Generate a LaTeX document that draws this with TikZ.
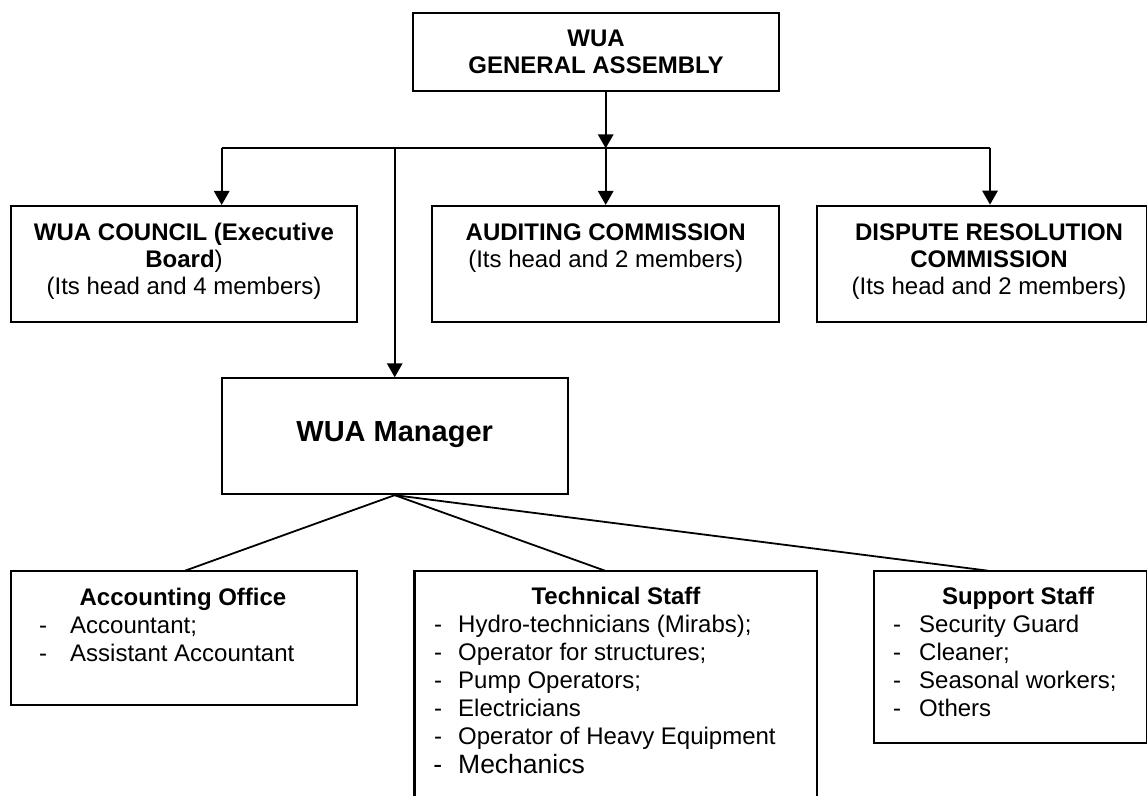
\documentclass[tikz,border=0pt]{standalone}
\usepackage{fontspec}
\setmainfont{Liberation Sans}
\usetikzlibrary{arrows.meta}
\begin{document}
\begin{tikzpicture}[x=1pt,y=-1pt,
  box/.style={draw=black, line width=2.2pt, inner sep=0pt, fill=none},
  ln/.style={draw=black, line width=1.8pt},
  arr/.style={ln, -{Triangle[width=15.5pt,length=14pt]}},
  hd/.style={anchor=base, inner sep=0pt, font=\fontsize{24}{28}\bfseries},
  tx/.style={anchor=base, inner sep=0pt, font=\fontsize{24}{28}\selectfont},
  it/.style={anchor=base west, inner sep=0pt, font=\fontsize{24}{28}\selectfont}
]
\useasboundingbox (0,0) rectangle (1147,795);
\clip (0,0) rectangle (1147,795);

% boxes
\node[box, minimum width=366pt, minimum height=77.4pt] (ga) at (596,52) {};
\node[box, minimum width=346pt, minimum height=116pt] (council) at (183.7,264) {};
\node[box, minimum width=346.7pt, minimum height=116pt] (audit) at (605.7,264) {};
\node[box, minimum width=330.3pt, minimum height=116pt] (dispute) at (981.85,263.7) {};
\node[box, minimum width=346pt, minimum height=115.7pt] (mgr) at (394.7,436.2) {};
\node[box, minimum width=346pt, minimum height=134.3pt] (acct) at (183.7,637.9) {};
\node[box, minimum width=402.5pt, minimum height=234.3pt] (tech) at (615.8,687.9) {};
\node[box, minimum width=273pt, minimum height=172.3pt] (supp) at (1010.5,656.9) {};

% texts
\node[hd] (ga1) at (596,46.5) {WUA};
\node[hd] (ga2) at (596,73.5) {GENERAL ASSEMBLY};

\node[hd] (c1) at (184,240.3) {WUA COUNCIL (Executive};
\node[hd] (c2) at (184,267) {Board\mdseries)};
\node[tx] (c3) at (184,294.5) {(Its head and 4 members)};

\node[hd] (au1) at (605.7,240.3) {AUDITING COMMISSION};
\node[tx] (au2) at (605.7,267) {(Its head and 2 members)};

\node[hd] (d1) at (989,240.3) {DISPUTE RESOLUTION};
\node[hd] (d2) at (989,267) {COMMISSION};
\node[tx] (d3) at (989,294.5) {(Its head and 2 members)};

\node[anchor=base, inner sep=0pt, font=\fontsize{29}{33}\bfseries] (m1) at (394.7,441) {WUA Manager};

\node[hd] (a0) at (183,605) {Accounting Office};
\node[it] (a1) at (70,633) {\llap{-\hspace{23pt}}Accountant;};
\node[it] (a2) at (70,661) {\llap{-\hspace{23pt}}Assistant Accountant};

\node[hd] (t0) at (616,604.5) {Technical Staff};
\node[it] (t1) at (458,632.5) {\llap{-\hspace{16pt}}Hydro-technicians (Mirabs);};
\node[it] (t2) at (458,660.5) {\llap{-\hspace{16pt}}Operator for structures;};
\node[it] (t3) at (458,688.5) {\llap{-\hspace{16pt}}Pump Operators;};
\node[it] (t4) at (458,716.5) {\llap{-\hspace{16pt}}Electricians};
\node[it] (t5) at (458,744.5) {\llap{-\hspace{16pt}}Operator of Heavy Equipment};
\node[it, font=\fontsize{26.5}{30}\selectfont] (t6) at (458,773) {\llap{-\hspace{16pt}}Mechanics};

\node[hd] (s0) at (1018,604.5) {Support Staff};
\node[it] (s1) at (919,632.5) {\llap{-\hspace{18pt}}Security Guard};
\node[it] (s2) at (919,660.5) {\llap{-\hspace{18pt}}Cleaner;};
\node[it] (s3) at (919,688.5) {\llap{-\hspace{18pt}}Seasonal workers;};
\node[it] (s4) at (919,716.5) {\llap{-\hspace{18pt}}Others};

% connectors
\coordinate (jL) at (221.7,148.3);
\coordinate (jM) at (394.7,148.3);
\coordinate (jC) at (605.7,148.3);
\coordinate (jR) at (990,148.3);
\coordinate (tA) at (185,570.7);
\coordinate (tT) at (605,570.7);
\coordinate (tS) at (988,570.7);

\draw[ln] (jL) -- (jR);
\draw[arr] (ga.south -| jC) -- (jC);
\draw[arr] (jL) -- (council.north -| jL);
\draw[arr] (jC) -- (audit.north -| jC);
\draw[arr] (jR) -- (dispute.north -| jR);
\draw[arr] (jM) -- (mgr.north -| jM);
\draw[ln] (mgr.south) -- (tA);
\draw[ln] (mgr.south) -- (tT);
\draw[ln] (mgr.south) -- (tS);
\end{tikzpicture}
\end{document}
